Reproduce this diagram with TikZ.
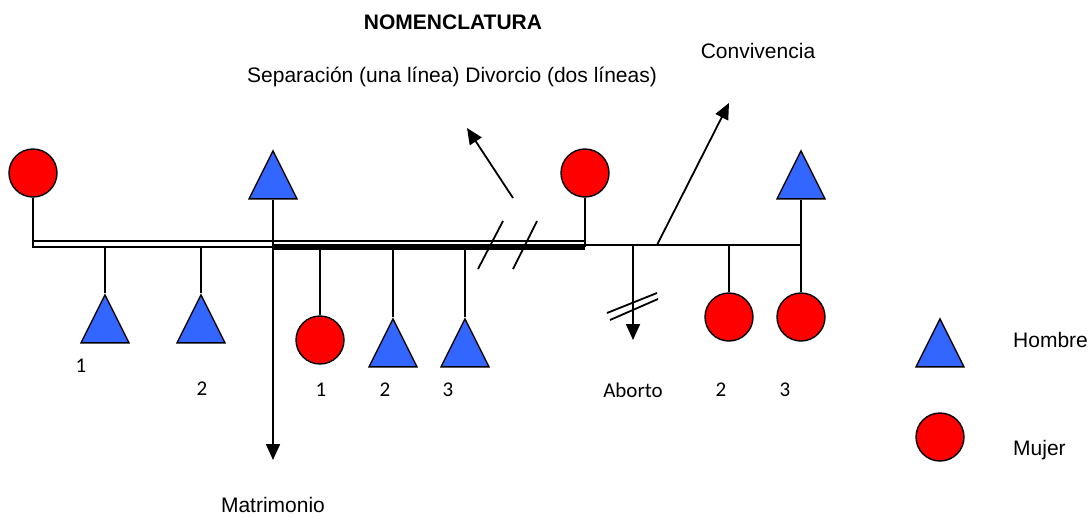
\documentclass[tikz,border=0pt]{standalone}
\usepackage{fontspec}
\setmainfont{Liberation Sans}
\newfontfamily\calibri{Carlito}
\usetikzlibrary{shapes.geometric,arrows.meta}

\definecolor{azulhombre}{RGB}{51,102,255}
\definecolor{rojomujer}{RGB}{255,0,0}

\tikzset{
  hombre/.style={isosceles triangle, isosceles triangle stretches, shape border rotate=90,
    minimum width=48pt, minimum height=48pt, inner sep=0pt, anchor=north,
    draw=black, line width=1.4pt, fill=azulhombre},
  mujer/.style={circle, minimum size=48pt, inner sep=0pt, draw=black, line width=1.4pt, fill=rojomujer},
  linea/.style={line width=1.8pt},
  flecha/.style={line width=1.8pt, -{Triangle[length=16pt,width=14pt]}},
  texto/.style={font=\fontsize{21}{25}\selectfont, inner sep=0pt},
  titulo/.style={font=\bfseries\fontsize{21}{25}\selectfont, inner sep=0pt},
  num/.style={font=\calibri\fontsize{21}{25}\selectfont, inner sep=0pt}
}

\begin{document}
\begin{tikzpicture}[x=1pt,y=-1pt]
      \useasboundingbox (0,0) rectangle (1090,517);
    %  \draw[help lines] (0,0) grid[step=50] (1090,517);

      \node [titulo] (nomen) at (453,22) {NOMENCLATURA};
      \node [texto] (sepdiv) at (452,77) {Separación (una línea) Divorcio (dos líneas)};
      \node [texto] (conviv) at (758,51) {Convivencia};
      \node [texto] (matri) at (273,505) {Matrimonio};

      \coordinate (a1) at (33,241);
      \coordinate (a3) at (585,241);
      \coordinate (u1) at (33,247);
      \coordinate (u2) at (273,247);
      \coordinate (u3) at (585,247);
      \coordinate (u4) at (801,245);
      \coordinate (matrifin) at (273,460);
      \coordinate (sep0) at (513,198);
      \coordinate (sep1) at (467,128);
      \coordinate (conv0) at (657,245);
      \coordinate (conv1) at (729,103);
      \coordinate (abo0) at (633,245);
      \coordinate (abo1) at (633,340);

      \node [mujer]  (m1) at (33,173) {};
      \node [hombre] (h1) at (273,149) {};
      \node [mujer]  (m2) at (585,173) {};
      \node [hombre] (h2) at (801,149) {};

      \node [hombre] (hijo1) at (105,293) {};
      \node [hombre] (hijo2) at (201,293) {};
      \node [mujer]  (hija3) at (320,340) {};
      \node [hombre] (hijo4) at (393,317) {};
      \node [hombre] (hijo5) at (465,317) {};
      \node [mujer]  (hija6) at (729,317) {};
      \node [mujer]  (hija7) at (801,317) {};

      % uniones
      \draw[linea] (m1.south) -- (u1) -- (u2);
      \draw[linea] (a1) -- (a3);
      \draw[line width=6pt] (u2) -- (u3);
      \draw[linea] (m2.south) -- (u3);
      \draw[linea] (m2.south |- u4) -- (u4);
      \draw[linea] (h2.south) -- (hija7.north);
      \draw[flecha] (h1.south) -- (matrifin);

      % hijos
      \draw[linea] (hijo1.north |- u1) -- (hijo1.north);
      \draw[linea] (hijo2.north |- u1) -- (hijo2.north);
      \draw[linea] (hija3.north |- u2) -- (hija3.north);
      \draw[linea] (hijo4.north |- u2) -- (hijo4.north);
      \draw[linea] (hijo5.north |- u2) -- (hijo5.north);
      \draw[linea] (hija6.north |- u4) -- (hija6.north);

      % divorcio
      \draw[linea] (478,269) -- (503,221);
      \draw[linea] (513,269) -- (537,221);
      \draw[flecha] (sep0) -- (sep1);

      \draw[flecha] (conv0) -- (conv1);

      % aborto
      \draw[flecha] (abo0) -- (abo1);
      \draw[linea] (607,313) -- (657,293);
      \draw[linea] (610,320) -- (658,299);

      \node [num] (n1) at (81,366) {1};
      \node [num] (n2) at (202,389) {2};
      \node [num] (n3) at (321,390) {1};
      \node [num] (n4) at (385,390) {2};
      \node [num] (n5) at (448,390) {3};
      \node [num] (aborto) at (633,390) {Aborto};
      \node [num] (n6) at (721,390) {2};
      \node [num] (n7) at (785,390) {3};

      % leyenda
      \node [hombre] (leyh) at (940,317) {};
      \node [mujer]  (leym) at (940,437) {};
      \node [texto, anchor=west] (hombre) at (1013,340) {Hombre};
      \node [texto, anchor=west] (mujer) at (1013,450) {Mujer};
    \end{tikzpicture}
\end{document}
